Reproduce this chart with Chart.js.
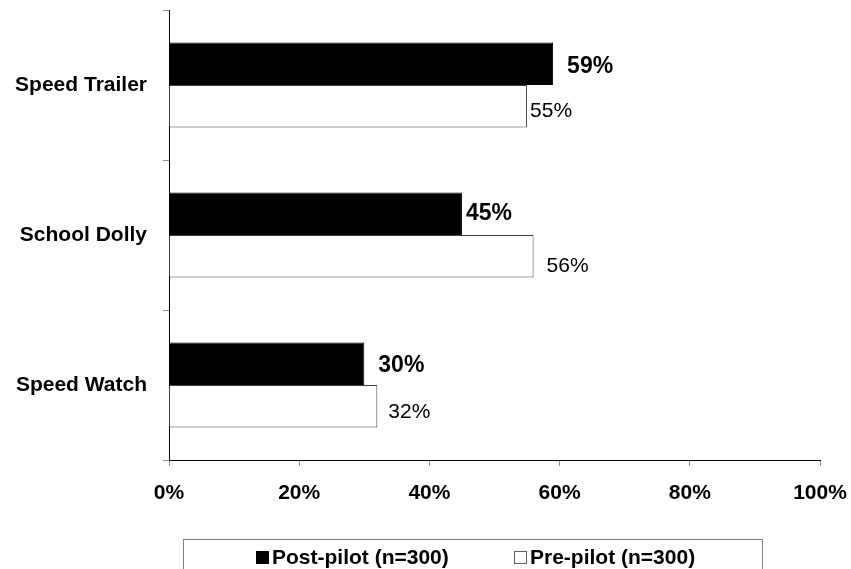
<!DOCTYPE html>
<html>
<head>
<meta charset="utf-8">
<script src="https://cdn.jsdelivr.net/npm/chart.js@4/dist/chart.umd.min.js"></script>
<style>
  html, body { margin: 0; padding: 0; background: #fff; }
  canvas { display: block; }
</style>
</head>
<body>
<canvas id="c" width="851" height="569"></canvas>
<script>
// Awareness measures before and after the pilot
const categories = ['Speed Trailer', 'School Dolly', 'Speed Watch'];
const postPilot = [59, 45, 30];
const prePilot = [55, 56, 32];
const xTicks = [0, 20, 40, 60, 80, 100];
const seriesNames = ['Post-pilot (n=300)', 'Pre-pilot (n=300)'];

// Hand-placed value label nudges [dx from bar end, dy from bar centre]
const postLabelNudge = [[14, 3], [4, 0], [14, 2]];
const preLabelNudge = [[3, 5], [13, 10], [11, 6]];

const FONT = '"Liberation Sans", Arial, Helvetica, sans-serif';

const valueLabels = {
  id: 'valueLabels',
  afterDatasetsDraw(chart) {
    const ctx = chart.ctx;
    ctx.save();
    ctx.textBaseline = 'middle';
    ctx.textAlign = 'left';
    ctx.fillStyle = '#000';
    chart.data.datasets.forEach((ds, di) => {
      const meta = chart.getDatasetMeta(di);
      const nudge = di === 0 ? postLabelNudge : preLabelNudge;
      ctx.font = di === 0 ? 'bold 23px ' + FONT : '21px ' + FONT;
      meta.data.forEach((bar, i) => {
        ctx.fillText(ds.data[i] + '%', bar.x + nudge[i][0], bar.y + nudge[i][1]);
      });
    });
    ctx.restore();
  }
};

const boxedLegend = {
  id: 'boxedLegend',
  afterDraw(chart) {
    const ctx = chart.ctx;
    ctx.save();
    ctx.strokeStyle = '#808080';
    ctx.lineWidth = 1;
    ctx.strokeRect(183.5, 539.5, 579, 60);
    const items = [
      { x: 256, fill: '#000', stroke: '#000' },
      { x: 514, fill: '#fff', stroke: '#606060' }
    ];
    ctx.font = 'bold 21px ' + FONT;
    ctx.textBaseline = 'middle';
    ctx.textAlign = 'left';
    items.forEach((it, i) => {
      ctx.fillStyle = it.fill;
      ctx.fillRect(it.x, 551, 13, 13);
      ctx.strokeStyle = it.stroke;
      ctx.strokeRect(it.x + 0.5, 551.5, 12, 12);
      ctx.fillStyle = '#000';
      ctx.fillText(chart.data.datasets[i].label, it.x + 16, 558);
    });
    ctx.restore();
  }
};

new Chart(document.getElementById('c'), {
  type: 'bar',
  data: {
    labels: categories,
    datasets: [
      {
        label: seriesNames[0],
        data: postPilot,
        backgroundColor: '#000',
        borderColor: '#000',
        borderWidth: 1,
        categoryPercentage: 0.567,
        barPercentage: 1.0
      },
      {
        label: seriesNames[1],
        data: prePilot,
        backgroundColor: '#fff',
        borderColor: '#404040',
        borderWidth: 1,
        categoryPercentage: 0.567,
        barPercentage: 1.0
      }
    ]
  },
  options: {
    indexAxis: 'y',
    responsive: false,
    animation: false,
    layout: { padding: { left: 0, right: 31, top: 10, bottom: 0 } },
    plugins: {
      legend: { display: false },
      tooltip: { enabled: false }
    },
    scales: {
      x: {
        min: 0,
        max: 100,
        afterBuildTicks(scale) {
          scale.ticks = xTicks.map(v => ({ value: v }));
        },
        afterFit(scale) {
          scale.height = 109;
          scale.paddingLeft = 0;
          scale.paddingRight = 0;
        },
        ticks: {
          callback: v => v + '%',
          color: '#000',
          padding: 15,
          maxRotation: 0,
          font: { family: FONT, size: 21, weight: 'bold' }
        },
        grid: {
          drawOnChartArea: false,
          drawTicks: true,
          tickLength: 6,
          tickColor: '#909090'
        },
        border: { color: '#000', width: 1 }
      },
      y: {
        afterFit(scale) {
          scale.width = 169;
          scale.paddingTop = 0;
          scale.paddingBottom = 0;
        },
        ticks: {
          color: '#000',
          padding: 16,
          font: { family: FONT, size: 21, weight: 'bold' }
        },
        grid: {
          offset: true,
          drawOnChartArea: false,
          drawTicks: true,
          tickLength: 6,
          tickColor: '#909090'
        },
        border: { color: '#000', width: 1 }
      }
    }
  },
  plugins: [valueLabels, boxedLegend]
});
</script>
</body>
</html>
